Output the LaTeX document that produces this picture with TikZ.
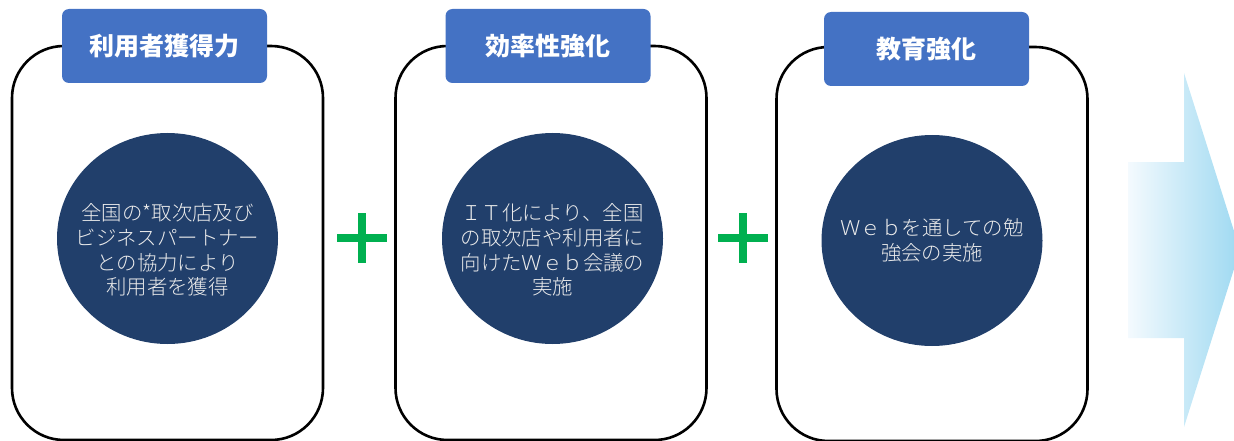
\documentclass[tikz,border=0pt]{standalone}
\usepackage{fontspec}
\newfontfamily\jp{Noto Sans CJK JP}
\newfontfamily\jplight{Noto Sans CJK JP Light}
\usetikzlibrary{shapes.geometric}
\definecolor{headblue}{HTML}{4472C4}
\definecolor{navy}{HTML}{213F6B}
\definecolor{plusgreen}{HTML}{00B050}
\definecolor{arrowlight}{HTML}{F4FAFE}
\definecolor{arrowblue}{HTML}{9ED9F1}

\begin{document}
\begin{tikzpicture}[x=1pt,y=-1pt,
	frame/.style={draw=black,line width=2.6pt,rounded corners=52pt,minimum width=311pt,minimum height=394pt},
	head/.style={fill=headblue,rounded corners=7pt,minimum width=205pt,minimum height=74pt,text=white,font=\jp\bfseries\fontsize{25}{30}\selectfont},
	disc/.style={ellipse,fill=navy,minimum width=221pt,minimum height=211pt,inner sep=0pt},
	disctext/.style={align=center,text=gray!15,font=\jplight\fontsize{20.4}{24.7}\selectfont,inner sep=0pt},
	plus/.style={draw=plusgreen,line width=8pt}]
\useasboundingbox (0,0) rectangle (1234,441);
% frames
	\node [frame] (frame1) at (167.5,243) {};
	\node [frame] (frame2) at (551,243) {};
	\node [frame] (frame3) at (932,244) {};
% headings
	\node [head] (head1) at (164.5,46) {利用者獲得力};
	\node [head] (head2) at (548,46) {効率性強化};
	\node [head] (head3) at (926.5,49) {教育強化};
% discs
	\node [disc] (disc1) at (167.5,238.5) {};
	\node [disc] (disc2) at (552.5,238.5) {};
	\node [disc] (disc3) at (932,240.5) {};
	\node [disctext] (text1) at (167.5,250) {全国の*取次店及び\\ビジネスパートナー\\との協力により\\利用者を獲得};
	\node [disctext] (text2) at (552.5,250) {ＩＴ化により、全国\\の取次店や利用者に\\向けたＷｅｂ会議の\\実施};
	\node [disctext] (text3) at (932,240.5) {Ｗｅｂを通しての勉\\強会の実施};
% plus signs
	\draw [plus] (337,238) -- (387,238);
	\draw [plus] (362,213) -- (362,263);
	\draw [plus] (718,238) -- (768,238);
	\draw [plus] (743,213) -- (743,263);
% arrow
	\shade [left color=arrowlight,right color=arrowblue] (1128,162) -- (1184,162) -- (1184,73) -- (1240,250) -- (1184,427) -- (1184,338) -- (1128,338) -- cycle;
\end{tikzpicture}
\end{document}
